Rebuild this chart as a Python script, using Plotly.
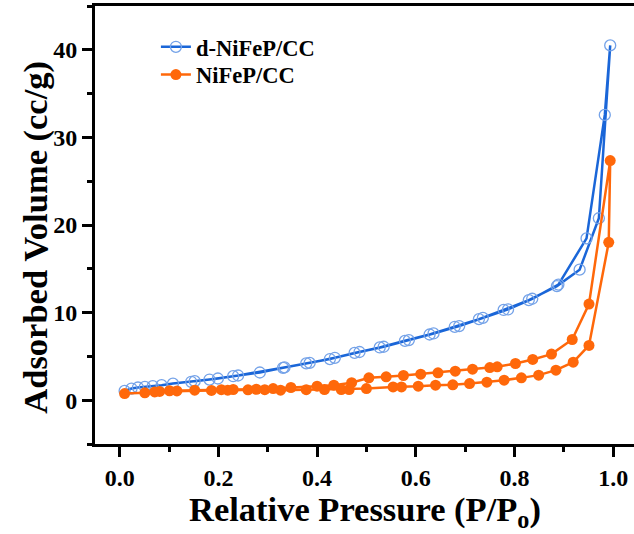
import plotly.graph_objects as go

# d-NiFeP/CC isotherm (adsorption then desorption)
d_ads_p = [0.010, 0.024, 0.037, 0.051, 0.067, 0.085, 0.108, 0.145, 0.182, 0.230, 0.284, 0.331,
           0.378, 0.426, 0.476, 0.527, 0.578, 0.628, 0.679, 0.728, 0.778, 0.829, 0.886, 0.932,
           0.971, 0.994]
d_ads_v = [1.06, 1.33, 1.45, 1.52, 1.60, 1.71, 1.90, 2.10, 2.36, 2.74, 3.16, 3.70,
           4.20, 4.70, 5.40, 6.02, 6.78, 7.50, 8.38, 9.26, 10.30, 11.43, 13.03, 14.90,
           20.77, 40.5]
d_des_p = [0.983, 0.946, 0.889, 0.836, 0.787, 0.736, 0.688, 0.636, 0.586, 0.535, 0.486,
           0.436, 0.385, 0.334, 0.240, 0.199, 0.152]
d_des_v = [32.57, 18.47, 13.20, 11.58, 10.36, 9.40, 8.46, 7.62, 6.86, 6.10, 5.50,
           4.84, 4.26, 3.74, 2.82, 2.48, 2.17]

# NiFeP/CC isotherm (adsorption then desorption)
n_ads_p = [0.010, 0.051, 0.081, 0.116, 0.186, 0.219, 0.260, 0.294, 0.326, 0.378, 0.415, 0.449,
           0.465, 0.500, 0.554, 0.571, 0.605, 0.640, 0.675, 0.709, 0.744, 0.779, 0.814, 0.849,
           0.884, 0.919, 0.951, 0.991, 0.994]
n_ads_v = [0.76, 0.84, 1.00, 1.06, 1.12, 1.14, 1.18, 1.20, 1.14, 1.20, 1.22, 1.22,
           1.22, 1.33, 1.52, 1.52, 1.60, 1.71, 1.75, 1.90, 2.06, 2.29, 2.55, 2.86,
           3.43, 4.34, 6.25, 18.02, 27.35]
n_des_p = [0.951, 0.917, 0.875, 0.837, 0.802, 0.765, 0.750, 0.715, 0.680, 0.645, 0.610,
           0.575, 0.540, 0.505, 0.470, 0.434, 0.400, 0.347, 0.311, 0.277, 0.230, 0.206,
           0.152, 0.101, 0.071]
n_des_v = [10.97, 6.93, 5.26, 4.65, 4.19, 3.81, 3.73, 3.54, 3.31, 3.12, 2.97,
           2.82, 2.67, 2.55, 2.00, 1.71, 1.60, 1.45, 1.33, 1.25, 1.22, 1.20,
           1.15, 1.08, 0.95]

x_ticks = [0.0, 0.2, 0.4, 0.6, 0.8, 1.0]
x_tick_text = ["0.0", "0.2", "0.4", "0.6", "0.8", "1.0"]
y_ticks = [0, 10, 20, 30, 40]

FONT = "Liberation Serif, Times New Roman, serif"
BLUE_LINE = "#1a66d8"
BLUE_MARK = "#74a2e8"
ORANGE = "#ff680a"

fig = go.Figure()
fig.add_trace(go.Scatter(
    x=d_ads_p + d_des_p, y=d_ads_v + d_des_v, mode="lines+markers", name="d-NiFeP/CC",
    line=dict(color=BLUE_LINE, width=2.5),
    marker=dict(symbol="circle-open", size=11, color=BLUE_MARK, line=dict(width=1.3, color=BLUE_MARK)),
    legend="legend",
))
fig.add_trace(go.Scatter(
    x=n_ads_p + n_des_p, y=n_ads_v + n_des_v, mode="lines+markers", name="NiFeP/CC",
    line=dict(color=ORANGE, width=2.5),
    marker=dict(symbol="circle", size=11, color=ORANGE),
    legend="legend2",
))

axis_common = dict(
    showline=True, linecolor="black", linewidth=3, showgrid=False, zeroline=False,
    ticks="outside", ticklen=10, tickwidth=2.5, tickcolor="black", ticklabelstandoff=0,
    tickfont=dict(family=FONT, size=24, color="black", weight="bold"),
)
fig.update_xaxes(range=[-0.05, -0.05 + 539 / 493.5], tickvals=x_ticks, ticktext=x_tick_text,
                 mirror=True,
                 minor=dict(ticks="outside", ticklen=5, tickwidth=2.5, tickcolor="black", dtick=0.1,
                            tick0=0.1),
                 **axis_common)
fig.update_yaxes(range=[-5, 45], tickvals=y_ticks,
                 minor=dict(ticks="outside", ticklen=5, tickwidth=2.5, tickcolor="black", dtick=5,
                            tick0=-5),
                 **axis_common)

fig.add_annotation(text="Relative Pressure (P/P<sub>o</sub>)", xref="paper", yref="paper",
                   x=0.5, y=-0.155, xanchor="center", yanchor="middle", showarrow=False,
                   font=dict(family=FONT, size=34.5, color="black", weight="bold"))
fig.add_annotation(text="Adsorbed Volume (cc/g)", xref="paper", yref="paper",
                   x=-0.111, y=0.4715, xanchor="center", yanchor="middle", showarrow=False,
                   textangle=-90,
                   font=dict(family=FONT, size=34.5, color="black", weight="bold"))

leg_common = dict(xanchor="left", yanchor="middle", bgcolor="rgba(0,0,0,0)",
                  font=dict(family=FONT, size=22.5, color="black", weight="bold"))
fig.update_layout(
    width=634, height=534,
    margin=dict(l=95, r=0, t=6, b=90),
    plot_bgcolor="white", paper_bgcolor="white",
    showlegend=True,
    legend=dict(x=0.113, y=0.906, **leg_common),
    legend2=dict(x=0.113, y=0.8425, **leg_common),
)

fig.write_html("out.html")
